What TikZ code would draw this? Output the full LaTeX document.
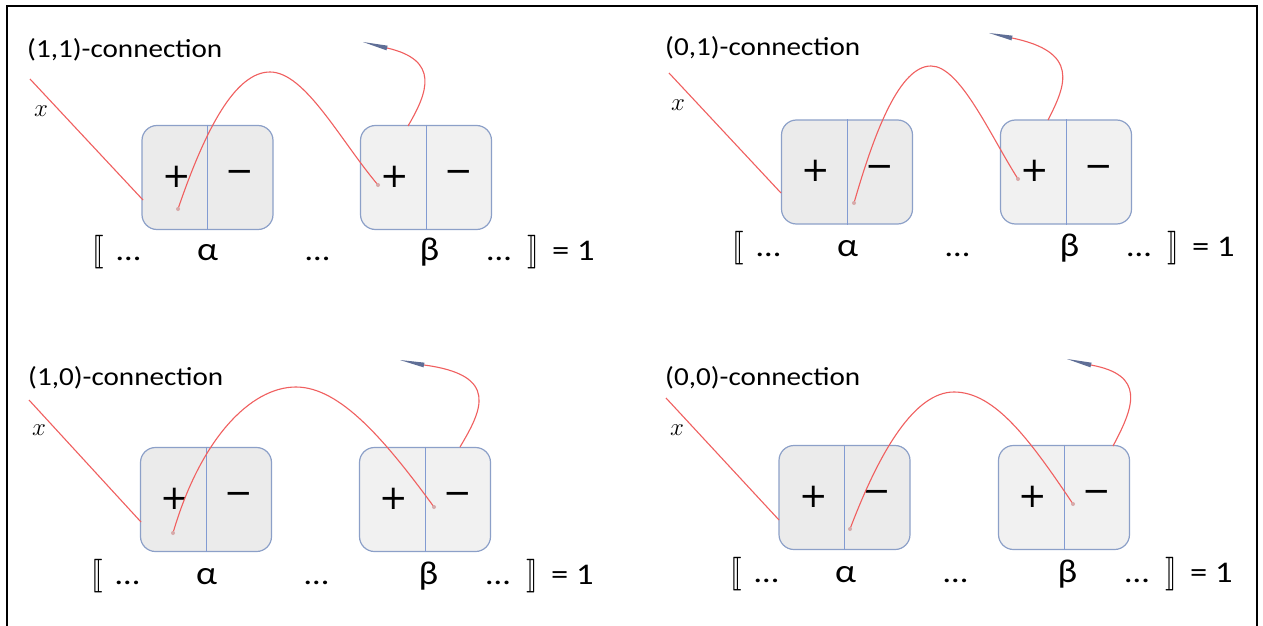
\documentclass[tikz,border=0pt]{standalone}
\usepackage{fontspec}
\usepackage{stmaryrd}
\setmainfont{Carlito}
\newfontfamily\djv{DejaVu Sans}
\usetikzlibrary{calc}
\definecolor{wirec}{RGB}{240,95,95}
\definecolor{edgec}{RGB}{140,160,200}
\definecolor{divc}{RGB}{130,155,210}
\definecolor{fillA}{RGB}{235,235,235}
\definecolor{fillB}{RGB}{241,241,241}
\definecolor{nibc}{RGB}{95,110,150}
\definecolor{dotc}{RGB}{215,170,170}
\newcommand\sx[1]{\scalebox{1.15}[1]{#1}}
\newcommand\tx[1]{\scalebox{1.12}[1]{#1}}
\newcommand\bk[1]{\scalebox{1.15}[1.35]{#1}}
\tikzset{
  card/.style={draw=edgec, line width=1.2pt, rounded corners=15pt, minimum width=131pt, minimum height=104pt, inner sep=0pt},
  cardA/.style={card, fill=fillA},
  cardB/.style={card, fill=fillB},
  ttl/.style={anchor=base west, inner sep=0pt, font=\fontsize{26}{30}\selectfont},
  xlab/.style={inner sep=0pt, font=\fontsize{25}{30}\selectfont},
  sign/.style={inner sep=0pt, font=\djv\fontsize{34}{40}\selectfont},
  eqt/.style={anchor=base, inner sep=0pt, font=\fontsize{30}{36}\selectfont},
  greek/.style={anchor=base, inner sep=0pt, font=\fontsize{33}{40}\selectfont},
  wire/.style={draw=wirec, line width=1.1pt},
  divider/.style={draw=divc, line width=1pt},
  frame/.style={draw=black, line width=2pt},
  nib/.style={fill=nibc},
  dot/.style={fill=dotc}
}
% bottom line: #1 prefix, #2 dx, #3 baseline
\newcommand\eqline[3]{%
  \begin{scope}[shift={(#2,#3)}]
    \node[eqt] (#1lb) at (98,0) {\bk{$\llbracket$}};
    \node[eqt] (#1d1) at (128.5,0) {\sx{…}};
    \node[greek] (#1al) at (207.5,0) {\tx{α}};
    \node[eqt] (#1d2) at (317.5,0) {\sx{…}};
    \node[greek] (#1be) at (429.5,0) {\tx{β}};
    \node[eqt] (#1d3) at (499,0) {\sx{…}};
    \node[eqt] (#1rb) at (533,0) {\bk{$\rrbracket$}};
    \node[eqt, anchor=base west] (#1eq) at (552,0) {\sx{= 1}};
  \end{scope}}
% signs in a box: #1 box name
\newcommand\signs[1]{%
  \node[sign] (#1p) at ($(#1.center)+(-31,-1)$) {+};
  \node[sign] (#1m) at ($(#1.center)+(32.5,-1)$) {−};
  \draw[divider] (#1.north) -- (#1.south);}
\newcommand\pentip[2]{%
  \fill[nib] (#2) -- ($(#1)!2.4pt!90:(#2)$) -- ($(#1)!2.4pt!-90:(#2)$) -- cycle;}
\begin{document}
\begin{tikzpicture}[x=1pt,y=-1pt]
\useasboundingbox (0,0) rectangle (1263,626);
\fill[white] (0,0) rectangle (1263,626);
\draw[frame] (7,626) -- (7,6.5) -- (1257,6.5) -- (1257,626);

% ---------- panel 1: (1,1)
\node[ttl] (t1) at (27,57) {\tx{(1,1)-connection}};
\node[xlab] (x1) at (41,111) {$x$};
\node[cardA] (a1) at (207.5,177.5) {};
\node[cardB] (b1) at (426,177.5) {};
\signs{a1}\signs{b1}
\coordinate (x1s) at (30,79);
\coordinate (a1in) at (143,200);
\coordinate (a1d) at (178,209);
\coordinate (b1d) at (378,185);
\coordinate (b1top) at (408,126);
\coordinate (n1) at (387,48);
\coordinate (n1t) at (363,42);
\draw[wire] (x1s) -- (a1in);
\draw[wire] (a1d) .. controls (205,130) and (235,72) .. (270,72) .. controls (305,72) and (340,140) .. (b1d);
\draw[wire] (b1top) .. controls (428,92) and (440,60) .. (n1);
\pentip{n1}{n1t}
\fill[dot] (a1d) circle (2pt);
\fill[dot] (b1d) circle (2pt);
\eqline{e1}{0}{260}

% ---------- panel 2: (0,1)
\node[ttl] (t2) at (665,56) {\tx{(0,1)-connection}};
\node[xlab] (x2) at (678,105) {$x$};
\node[cardA] (a2) at (847,172) {};
\node[cardB] (b2) at (1066,172) {};
\signs{a2}\signs{b2}
\coordinate (x2s) at (669,73);
\coordinate (a2in) at (781,193);
\coordinate (a2d) at (854,203);
\coordinate (b2d) at (1018,179);
\coordinate (b2top) at (1048,120);
\coordinate (n2) at (1012,38);
\coordinate (n2t) at (989,33);
\draw[wire] (x2s) -- (a2in);
\draw[wire] (a2d) .. controls (875,130) and (900,66) .. (931,66) .. controls (960,66) and (990,135) .. (b2d);
\draw[wire] (b2top) .. controls (1066,85) and (1080,52) .. (n2);
\pentip{n2}{n2t}
\fill[dot] (a2d) circle (2pt);
\fill[dot] (b2d) circle (2pt);
\eqline{e2}{640}{256}

% ---------- panel 3: (1,0)
\node[ttl] (t3) at (28,385) {\tx{(1,0)-connection}};
\node[xlab] (x3) at (39,430) {$x$};
\node[cardA] (a3) at (206,499.5) {};
\node[cardB] (b3) at (425,499.5) {};
\signs{a3}\signs{b3}
\coordinate (x3s) at (29,400);
\coordinate (a3in) at (141,522);
\coordinate (a3d) at (173,533);
\coordinate (b3d) at (434,507);
\coordinate (b3top) at (460,447);
\coordinate (n3) at (424,365);
\coordinate (n3t) at (400,360);
\draw[wire] (x3s) -- (a3in);
\draw[wire] (a3d) .. controls (200,440) and (250,387) .. (296,387) .. controls (340,387) and (385,440) .. (b3d);
\draw[wire] (b3top) .. controls (482,410) and (500,375) .. (n3);
\pentip{n3}{n3t}
\fill[dot] (a3d) circle (2pt);
\fill[dot] (b3d) circle (2pt);
\eqline{e3}{-1}{584}

% ---------- panel 4: (0,0)
\node[ttl] (t4) at (665,385) {\tx{(0,0)-connection}};
\node[xlab] (x4) at (677,430) {$x$};
\node[cardA] (a4) at (844.5,497.5) {};
\node[cardB] (b4) at (1064,497.5) {};
\signs{a4}\signs{b4}
\coordinate (x4s) at (666,398);
\coordinate (a4in) at (779,520);
\coordinate (a4d) at (850,529);
\coordinate (b4d) at (1073,504);
\coordinate (b4top) at (1113,446);
\coordinate (n4) at (1091,365);
\coordinate (n4t) at (1067,359);
\draw[wire] (x4s) -- (a4in);
\draw[wire] (a4d) .. controls (880,450) and (915,392) .. (954,392) .. controls (995,392) and (1030,440) .. (b4d);
\draw[wire] (b4top) .. controls (1135,405) and (1145,375) .. (n4);
\pentip{n4}{n4t}
\fill[dot] (a4d) circle (2pt);
\fill[dot] (b4d) circle (2pt);
\eqline{e4}{638}{582}
\end{tikzpicture}
\end{document}
